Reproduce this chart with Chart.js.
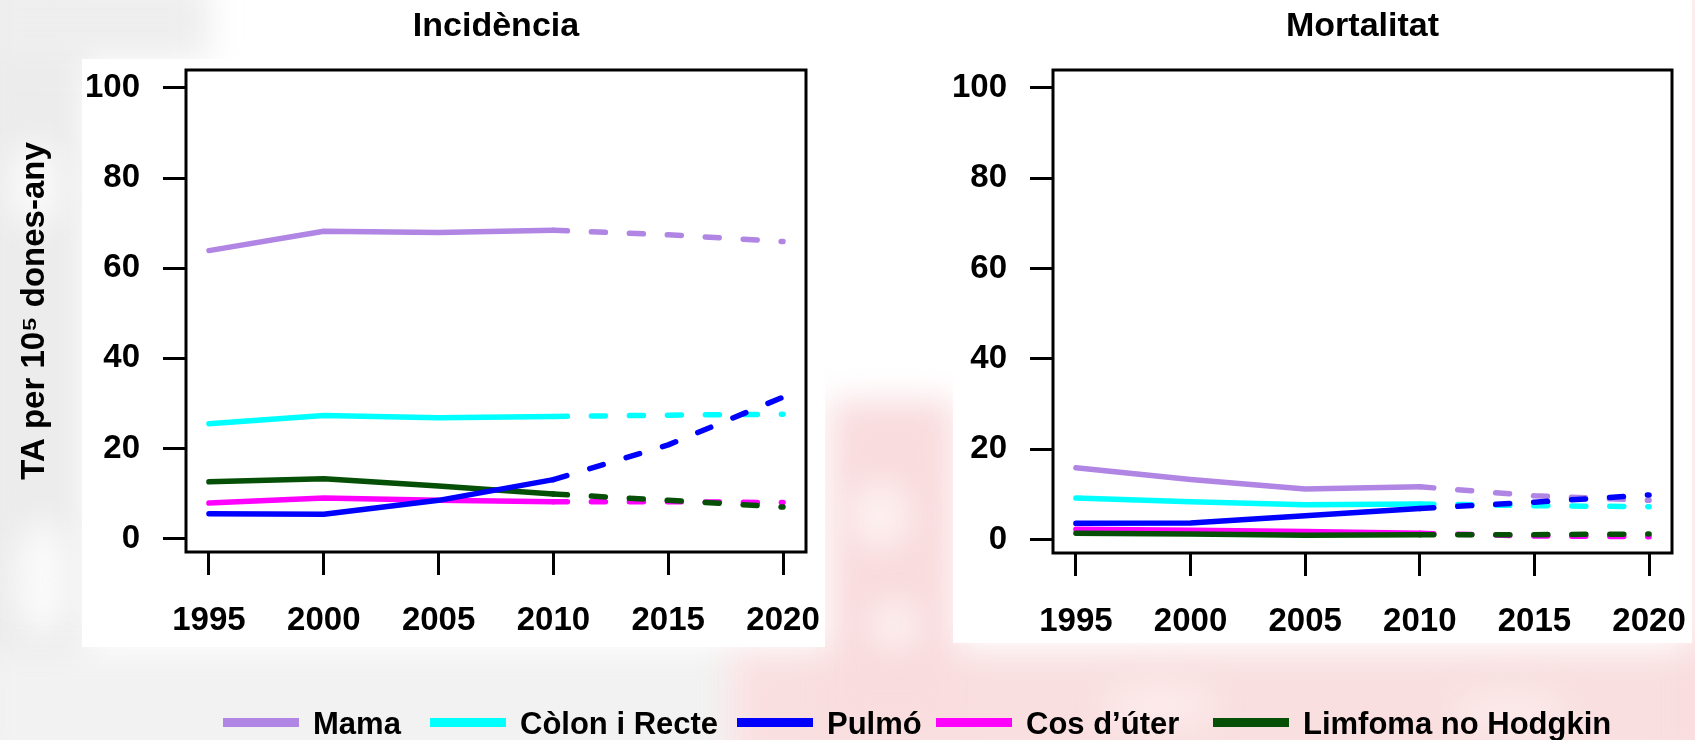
<!DOCTYPE html>
<html>
<head>
<meta charset="utf-8">
<script src="https://cdn.jsdelivr.net/npm/chart.js@4.4.1/dist/chart.umd.min.js"></script>
<style>
  html, body { margin: 0; padding: 0; }
  body {
    width: 1695px; height: 740px; position: relative; overflow: hidden;
    background: #fff; font-family: "Liberation Sans", Arial, sans-serif;
  }
  .haze { position: absolute; filter: blur(16px); }
  .panel { position: absolute; background: #fff; }
  canvas { position: absolute; left: 0; top: 0; }
  .sw { position: absolute; top: 718px; width: 76px; height: 9px; }
  .lab {
    position: absolute; top: 708px; font-size: 31px; line-height: 31px;
    font-weight: bold; color: #000; white-space: nowrap;
  }
</style>
</head>
<body>
<!-- faded backdrop -->
<div class="haze" style="left:-30px;top:-30px;width:115px;height:800px;background:#ececec"></div>
<div class="haze" style="left:-20px;top:-20px;width:230px;height:80px;background:#eeeeee"></div>
<div class="haze" style="left:10px;top:140px;width:50px;height:90px;background:#fafafa;border-radius:50%"></div>
<div class="haze" style="left:15px;top:520px;width:55px;height:120px;background:#fafafa;border-radius:50%"></div>
<div class="haze" style="left:-20px;top:650px;width:760px;height:120px;background:#f2f2f2"></div>
<div class="haze" style="left:730px;top:650px;width:1000px;height:120px;background:#f9dfe0"></div>
<div class="haze" style="left:830px;top:400px;width:125px;height:320px;background:#f9dcde"></div>
<div class="haze" style="left:1690px;top:-20px;width:30px;height:780px;background:#f9dcde"></div>
<div class="haze" style="left:850px;top:480px;width:60px;height:70px;background:#fdf0f0;border-radius:50%"></div>
<div class="haze" style="left:870px;top:600px;width:50px;height:50px;background:#fdf0f0;border-radius:50%"></div>
<div class="haze" style="left:1100px;top:680px;width:120px;height:50px;background:#fceaea;border-radius:50%"></div>
<div class="haze" style="left:1450px;top:690px;width:120px;height:45px;background:#fceaea;border-radius:50%"></div>
<div class="panel" style="left:82px;top:59px;width:743px;height:588px"></div>
<div class="panel" style="left:953px;top:0px;width:739px;height:643px"></div>

<canvas id="incChart" width="1695" height="740"></canvas>
<canvas id="morChart" width="1695" height="740"></canvas>
<div id="legend"></div>

<script>
// years on the axis, observed period and projected period
const years = [1995, 2000, 2005, 2010, 2015, 2020];
const observedYears = [1995, 2000, 2005, 2010];
const projectedYears = [2010, 2015, 2020];
const yTicks = [0, 20, 40, 60, 80, 100];

const cancers = ['Mama', 'Còlon i Recte', 'Pulmó', 'Cos d’úter', 'Limfoma no Hodgkin'];
const colors = ['#b085e3', '#00ffff', '#0000ff', '#ff00ff', '#064f06'];

// incidence, rate per 10^5 women-years
const incMama = [63.9, 68.2, 67.9, 68.4];
const incMamaProj = [68.4, 67.4, 65.9];
const incColon = [25.5, 27.3, 26.8, 27.1];
const incColonProj = [27.1, 27.4, 27.6];
const incPulmo = [5.5, 5.4, 8.5, 13.1];
const incPulmoProj = [13.1, 20.8, 31.4];
const incUter = [7.9, 9.0, 8.5, 8.2];
const incUterProj = [8.2, 8.2, 8.0];
const incLimfoma = [12.6, 13.3, 11.7, 9.9];
const incLimfomaProj = [9.9, 8.5, 7.0];

// mortality
const morMama = [15.9, 13.3, 11.2, 11.7];
const morMamaProj = [11.7, 9.7, 8.7];
const morColon = [9.2, 8.4, 7.7, 7.9];
const morColonProj = [7.9, 7.5, 7.3];
const morPulmo = [3.6, 3.7, 5.3, 6.9];
const morPulmoProj = [6.9, 8.3, 9.9];
const morUter = [2.3, 2.1, 1.8, 1.4];
const morUterProj = [1.4, 0.8, 0.65];
const morLimfoma = [1.4, 1.25, 0.95, 1.1];
const morLimfomaProj = [1.1, 1.1, 1.25];

Chart.defaults.font.family = '"Liberation Sans", Arial, sans-serif';
Chart.defaults.color = '#000';

// lower order is painted on top (lung over the rest)
const stackOrder = [4, 3, 0, 2, 1];

function buildDatasets(observed, projected) {
  const sets = [];
  cancers.forEach((name, i) => {
    const common = {
      borderColor: colors[i],
      borderWidth: 5.5,
      borderCapStyle: 'round',
      borderJoinStyle: 'round',
      pointRadius: 0,
      tension: 0,
      fill: false,
      order: stackOrder[i]
    };
    sets.push(Object.assign({
      label: name,
      data: observedYears.map((x, k) => ({ x: x, y: observed[i][k] }))
    }, common));
    sets.push(Object.assign({
      label: name + ' (projecció)',
      data: projectedYears.map((x, k) => ({ x: x, y: projected[i][k] })),
      borderDash: [14, 24]
    }, common));
  });
  return sets;
}

// box drawn round the plot area
const frame = {
  id: 'frame',
  afterDatasetsDraw(chart) {
    const { ctx, chartArea: a } = chart;
    ctx.save();
    ctx.strokeStyle = '#000';
    ctx.lineWidth = 3;
    ctx.strokeRect(a.left, a.top, a.right - a.left, a.bottom - a.top);
    ctx.restore();
  }
};

function makeChart(id, title, observed, projected, pad, yWidth, yTitle) {
  const tickGrid = {
    drawOnChartArea: false, drawTicks: true, tickLength: 23,
    tickWidth: 3, tickColor: '#000', lineWidth: 3, color: '#000'
  };
  return new Chart(document.getElementById(id), {
    type: 'line',
    data: { datasets: buildDatasets(observed, projected) },
    plugins: [frame],
    options: {
      responsive: false,
      animation: false,
      devicePixelRatio: 1,
      layout: { padding: pad },
      plugins: {
        legend: { display: false },
        tooltip: { enabled: false },
        title: {
          display: true,
          text: title,
          fullSize: false,
          color: '#000',
          font: { size: 34, weight: 'bold' },
          padding: { top: 6.6, bottom: 22.6 }
        }
      },
      scales: {
        x: {
          type: 'linear', min: 1994, max: 2021,
          afterBuildTicks: s => { s.ticks = years.map(v => ({ value: v })); },
          afterFit: s => { s.height = 108; s.paddingLeft = 0; s.paddingRight = 0; },
          grid: tickGrid,
          border: { display: false },
          ticks: {
            padding: 26, color: '#000', autoSkip: false, maxRotation: 0,
            font: { size: 33, weight: 'bold' },
            callback: v => String(v)
          }
        },
        y: {
          type: 'linear', min: -2.96, max: 103.96,
          afterBuildTicks: s => { s.ticks = yTicks.map(v => ({ value: v })); },
          afterFit: s => { s.width = yWidth; s.paddingTop = 0; s.paddingBottom = 0; },
          grid: tickGrid,
          border: { display: false },
          ticks: {
            padding: 23, color: '#000',
            font: { size: 33, weight: 'bold' }
          },
          title: {
            display: !!yTitle,
            text: yTitle || '',
            color: '#000',
            font: { size: 33, weight: 'bold' },
            padding: { top: 15, bottom: 0 }
          }
        }
      }
    }
  });
}

makeChart('incChart', 'Incidència',
  [incMama, incColon, incPulmo, incUter, incLimfoma],
  [incMamaProj, incColonProj, incPulmoProj, incUterProj, incLimfomaProj],
  { left: 0, top: 0, right: 889, bottom: 80 }, 186, 'TA per 10⁵ dones-any');

makeChart('morChart', 'Mortalitat',
  [morMama, morColon, morPulmo, morUter, morLimfoma],
  [morMamaProj, morColonProj, morPulmoProj, morUterProj, morLimfomaProj],
  { left: 880, top: 0, right: 23, bottom: 79 }, 173, null);

// shared legend along the bottom
const legendLeft = [223, 430, 737, 936, 1213];
const legend = document.getElementById('legend');
cancers.forEach((name, i) => {
  const sw = document.createElement('div');
  sw.className = 'sw';
  sw.style.left = legendLeft[i] + 'px';
  sw.style.background = colors[i];
  legend.appendChild(sw);
  const lab = document.createElement('div');
  lab.className = 'lab';
  lab.style.left = (legendLeft[i] + 90) + 'px';
  lab.textContent = name;
  legend.appendChild(lab);
});
</script>
</body>
</html>
